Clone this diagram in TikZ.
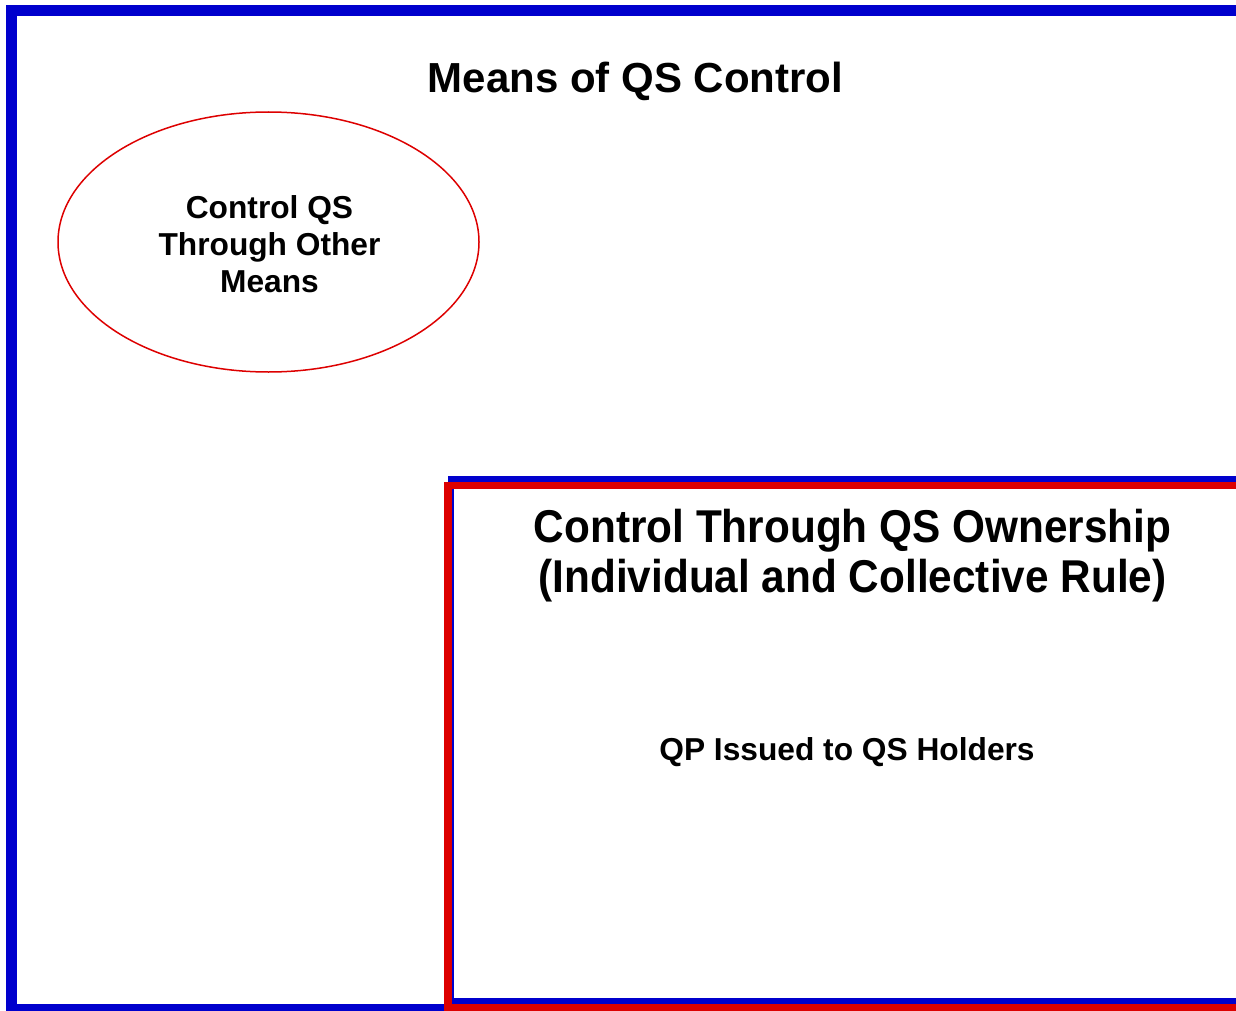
\documentclass[tikz,border=0pt]{standalone}
\usepackage{fontspec}
\setmainfont{Liberation Sans}
\newfontfamily\narrowsans[FakeStretch=0.92]{Liberation Sans}
\usetikzlibrary{shapes.geometric}
\definecolor{frameblue}{RGB}{0,0,205}
\definecolor{framered}{RGB}{221,0,0}
\tikzset{
	bigtitle/.style={font=\bfseries\fontsize{21}{25}\selectfont},
	boxtitle/.style={font=\narrowsans\bfseries\fontsize{23}{25}\selectfont, align=center},
	smalltext/.style={font=\bfseries\fontsize{15.85}{18.5}\selectfont, align=center},
	oval/.style={ellipse, draw=framered, line width=0.75pt, inner sep=0pt,
		minimum width=210.5pt, minimum height=130pt}
}
\begin{document}
\begin{tikzpicture}[x=0.5pt, y=-0.5pt, line join=miter]
		\useasboundingbox (0,0) rectangle (1236,1011);
		% outer frame
		\draw[frameblue, line width=5.5pt] (11.5,11) rectangle (1262,1009.5);
		\node[bigtitle, anchor=base] (means) at (635.5,93) {Means of QS Control};
		\node[oval] (othermeans) at (268.5,242) {};
		\node[smalltext] (othertext) at (269.5,244) {Control QS\\Through Other\\Means};
		% inner box, blue behind red
		\draw[frameblue, line width=3pt] (451,479) rectangle (1262,1001);
		\draw[framered, line width=3.75pt] (448,485.5) rectangle (1262,1007.5);
		\node[boxtitle] (ownership) at (852.5,556) {Control Through QS Ownership\\(Individual and Collective Rule)};
		\node[smalltext, anchor=base] (issued) at (847,760) {QP Issued to QS Holders};
\end{tikzpicture}
\end{document}
